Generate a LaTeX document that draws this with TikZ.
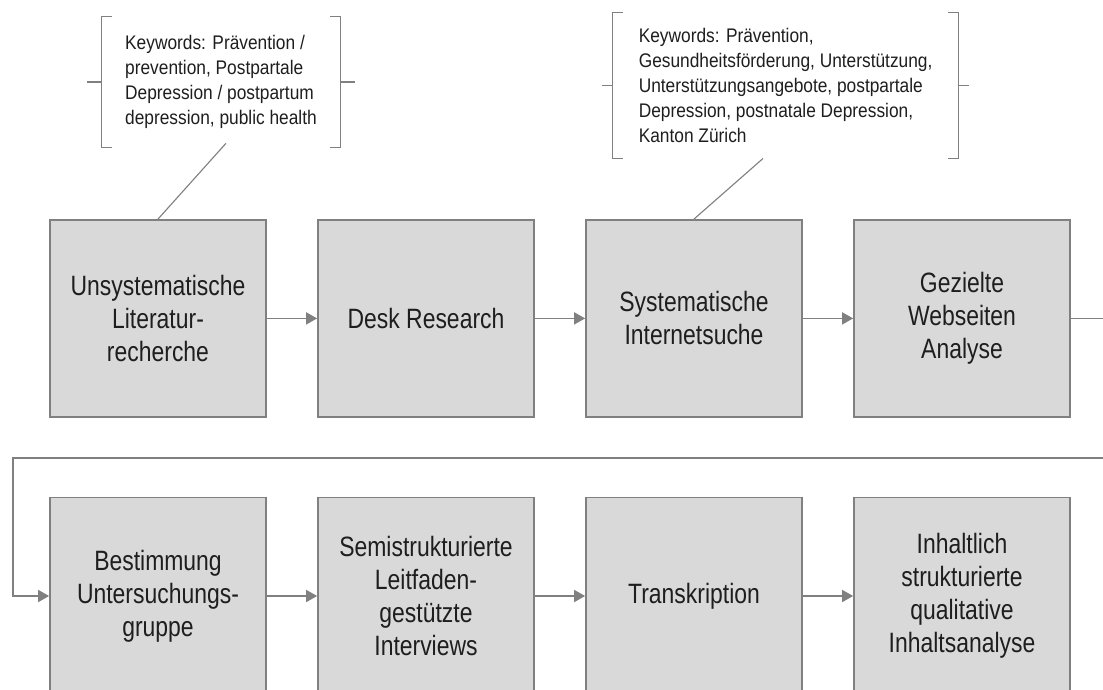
\documentclass[tikz,border=0pt]{standalone}
\usepackage{fontspec}
\setmainfont{Liberation Sans}
\newfontfamily\boxfont[FakeStretch=0.82]{Liberation Sans}
\newfontfamily\kwfont[FakeStretch=0.88]{Liberation Sans}
\usetikzlibrary{arrows.meta}

\definecolor{boxgray}{RGB}{217,217,217}
\definecolor{linegray}{RGB}{128,128,128}
\definecolor{textgray}{RGB}{30,30,30}

\tikzset{
    stepbox/.style={draw=linegray, line width=1.2pt, fill=boxgray, minimum width=5.4cm, minimum height=4.925cm, align=center, text=textgray, font=\boxfont\fontsize{19.9}{23.4}\selectfont},
    keywords/.style={align=left, text=textgray, font=\kwfont\fontsize{14}{17.7}\selectfont},
    flow/.style={draw=linegray, line width=1.2pt, -{Triangle[length=7.8pt,width=8.5pt]}},
    bracket/.style={draw=linegray, line width=0.9pt},
    pointer/.style={draw=linegray, line width=0.8pt},
}

\begin{document}
\begin{tikzpicture}
        \useasboundingbox (0,0) rectangle (27.575,-17.225);

        % keyword brackets
        \node[keywords, minimum width=5.95cm, minimum height=3.25cm] at (5.525,-2.05) (kwlit) {Keywords: Prävention /\\prevention, Postpartale\\Depression / postpartum\\depression, public health};
        \node[keywords, minimum width=8.625cm, minimum height=3.625cm] at (19.64,-2.14) (kwweb) {Keywords: Prävention,\\Gesundheitsförderung, Unterstützung,\\Unterstützungsangebote, postpartale\\Depression, postnatale Depression,\\Kanton Zürich};

        \draw[bracket] ([xshift=0.25cm]kwlit.north west) -- (kwlit.north west) -- (kwlit.south west) -- ([xshift=0.25cm]kwlit.south west);
        \draw[bracket] (kwlit.west) -- ++(-0.375,0);
        \draw[bracket] ([xshift=-0.25cm]kwlit.north east) -- (kwlit.north east) -- (kwlit.south east) -- ([xshift=-0.25cm]kwlit.south east);
        \draw[bracket] (kwlit.east) -- ++(0.375,0);

        \draw[bracket] ([xshift=0.25cm]kwweb.north west) -- (kwweb.north west) -- (kwweb.south west) -- ([xshift=0.25cm]kwweb.south west);
        \draw[bracket] (kwweb.west) -- ++(-0.275,0);
        \draw[bracket] ([xshift=-0.25cm]kwweb.north east) -- (kwweb.north east) -- (kwweb.south east) -- ([xshift=-0.25cm]kwweb.south east);
        \draw[bracket] (kwweb.east) -- ++(0.275,0);

        % first row
        \node[stepbox] at (3.95,-7.96) (litsearch) {Unsystematische\\Literatur-\\recherche};
        \node[stepbox] at (10.65,-7.96) (deskres) {Desk Research};
        \node[stepbox] at (17.35,-7.96) (websearch) {Systematische\\Internetsuche};
        \node[stepbox] at (24.05,-7.96) (siteanalysis) {Gezielte\\Webseiten\\Analyse};

        % second row
        \node[stepbox] at (3.95,-14.9) (sample) {Bestimmung\\Untersuchungs-\\gruppe};
        \node[stepbox] at (10.65,-14.9) (interviews) {Semistrukturierte\\Leitfaden-\\gestützte\\Interviews};
        \node[stepbox] at (17.35,-14.9) (transcript) {Transkription};
        \node[stepbox] at (24.05,-14.9) (analysis) {Inhaltlich\\strukturierte\\qualitative\\Inhaltsanalyse};

        \draw[pointer] ([xshift=0.125cm,yshift=0.1cm]kwlit.south) -- (litsearch.north);
        \draw[pointer] ([xshift=-0.5625cm]kwweb.south) -- (websearch.north);

        \draw[flow] (litsearch) -- (deskres);
        \draw[flow] (deskres) -- (websearch);
        \draw[flow] (websearch) -- (siteanalysis);

        \coordinate (wrapright) at (28.3,-11.45);
        \coordinate (wrapleft) at (0.325,-11.45);
        \draw[flow] (siteanalysis.east) -| (wrapright) -- (wrapleft) |- (sample.west);

        \draw[flow] (sample) -- (interviews);
        \draw[flow] (interviews) -- (transcript);
        \draw[flow] (transcript) -- (analysis);

    \end{tikzpicture}
\end{document}
